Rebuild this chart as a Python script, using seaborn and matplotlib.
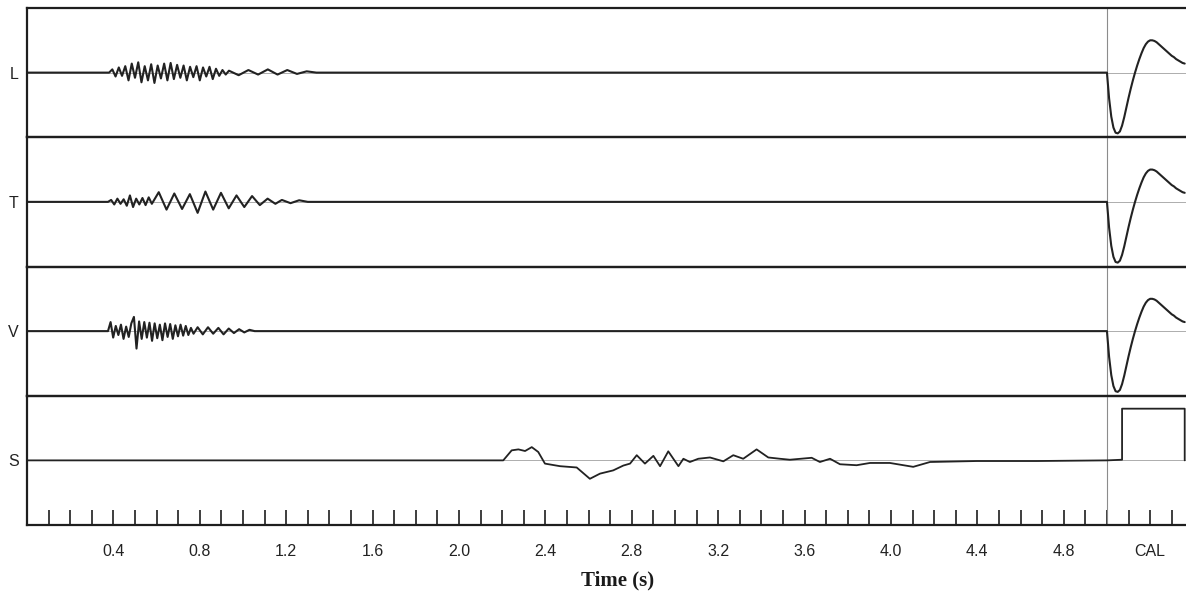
import numpy as np
import matplotlib
matplotlib.use('Agg')
import matplotlib.pyplot as plt
import seaborn as sns

# ────────────────────────────────────────────────
# channel names (top to bottom)
channels = ['L', 'T', 'V', 'S']

# L wave train: start time, sample step, values
L_burst_t0, L_burst_step = 0.38, 0.015
L_burst = [0.00, 0.05, -0.06, 0.08, -0.05, 0.10, -0.12, 0.14, -0.08, 0.16, -0.15, 0.10,
           -0.12, 0.13, -0.16, 0.11, -0.09, 0.14, -0.12, 0.15, -0.10, 0.12, -0.08, 0.11,
           -0.12, 0.09, -0.07, 0.10, -0.12, 0.08, -0.06, 0.09, -0.10, 0.06, -0.05, 0.04, -0.03]
L_coda_t0, L_coda_step = 0.935, 0.045
L_coda = [0.03, -0.04, 0.04, -0.03, 0.05, -0.03, 0.04, -0.02, 0.02, 0.00]

# T wave train
T_fast_t0, T_fast_step = 0.375, 0.0145
T_fast = [0.00, 0.03, -0.04, 0.05, -0.03, 0.04, -0.06, 0.10, -0.08, 0.05, -0.04, 0.06,
          -0.05, 0.07, -0.03]
T_slow_t0, T_slow_step = 0.61, 0.036
T_slow = [0.15, -0.12, 0.13, -0.11, 0.12, -0.17, 0.16, -0.12, 0.14, -0.10, 0.10, -0.08,
          0.09, -0.05, 0.05, -0.03]
T_coda_t0, T_coda_step = 1.18, 0.04
T_coda = [0.03, -0.02, 0.025, 0.00]

# V wave train
V_fast_t0, V_fast_step = 0.375, 0.012
V_fast = [0.00, 0.14, -0.10, 0.08, -0.06, 0.10, -0.12, 0.07, -0.09, 0.12, 0.22, -0.27,
          0.15, -0.12, 0.14, -0.10, 0.13, -0.15, 0.12, -0.11, 0.10, -0.14, 0.12, -0.09,
          0.11, -0.12, 0.09, -0.08, 0.10, -0.07, 0.08, -0.06, 0.05, -0.04]
V_slow_t0, V_slow_step = 0.79, 0.024
V_slow = [0.06, -0.05, 0.06, -0.04, 0.05, -0.05, 0.04, -0.03, 0.03, -0.02, 0.02, 0.00]

# S trace (read at the turning points)
S_time = [0.0, 2.205, 2.244, 2.275, 2.306, 2.337, 2.367, 2.398, 2.468, 2.545, 2.606,
          2.653, 2.714, 2.761, 2.792, 2.823, 2.861, 2.900, 2.931, 2.969, 3.016, 3.039,
          3.069, 3.108, 3.162, 3.224, 3.270, 3.316, 3.378, 3.432, 3.486, 3.532, 3.633,
          3.671, 3.718, 3.764, 3.841, 3.903, 3.995, 4.103, 4.181, 4.397, 4.675, 5.00,
          5.07, 5.07, 5.36, 5.36]
S_value = [0.0, 0.0, 0.155, 0.17, 0.145, 0.205, 0.13, -0.05, -0.09, -0.11, -0.285,
           -0.205, -0.155, -0.08, -0.05, 0.08, -0.05, 0.07, -0.09, 0.14, -0.09, 0.025,
           -0.025, 0.025, 0.045, -0.015, 0.08, 0.025, 0.17, 0.045, 0.025, 0.01, 0.04,
           -0.025, 0.025, -0.06, -0.075, -0.04, -0.04, -0.10, -0.025, -0.01, -0.01, 0.0,
           0.01, 0.80, 0.80, 0.0]

# calibration pulse of L, T, V (from 5.00 s, every 0.01 s)
cal_t0, cal_step = 5.00, 0.01
cal_pulse = [0.00, -0.40, -0.68, -0.85, -0.93, -0.94, -0.91, -0.82, -0.69, -0.54, -0.39,
             -0.25, -0.12, 0.00, 0.11, 0.21, 0.30, 0.38, 0.44, 0.48, 0.50, 0.50, 0.49,
             0.47, 0.44, 0.41, 0.38, 0.35, 0.32, 0.29, 0.26, 0.24, 0.21, 0.19, 0.17,
             0.15, 0.14]

# time axis
minor_ticks = [round(0.1 * k, 1) for k in range(1, 54)]
major_ticks = [0.4, 0.8, 1.2, 1.6, 2.0, 2.4, 2.8, 3.2, 3.6, 4.0, 4.4, 4.8, 5.2]
major_labels = ['0.4', '0.8', '1.2', '1.6', '2.0', '2.4', '2.8', '3.2', '3.6', '4.0',
                '4.4', '4.8', 'CAL']
cal_start = 5.0


def samples(t0, step, vals):
    return t0 + step * np.arange(len(vals)), np.array(vals, dtype=float)


def build(parts):
    # trace = rest at 0, wave pieces, rest until CAL, then calibration pulse
    ts, vs = [np.array([0.0])], [np.array([0.0])]
    for t0, step, vals in parts:
        t, v = samples(t0, step, vals)
        ts.append(t)
        vs.append(v)
    t, v = samples(cal_t0, cal_step, cal_pulse)
    ts.append(t)
    vs.append(v)
    return np.concatenate(ts), np.concatenate(vs)


traces = {
    'L': build([(L_burst_t0, L_burst_step, L_burst), (L_coda_t0, L_coda_step, L_coda)]),
    'T': build([(T_fast_t0, T_fast_step, T_fast), (T_slow_t0, T_slow_step, T_slow),
                (T_coda_t0, T_coda_step, T_coda)]),
    'V': build([(V_fast_t0, V_fast_step, V_fast), (V_slow_t0, V_slow_step, V_slow)]),
    'S': (np.array(S_time), np.array(S_value)),
}

# ────────────────────────────────────────────────
sns.set_style('white')
plt.rcParams['font.family'] = ['Liberation Sans', 'DejaVu Sans']

trace_color = '#222222'
frame_color = '#1e1e1e'

fig, axes = plt.subplots(4, 1, figsize=(11.86, 5.96), dpi=100, sharex=True)
fig.subplots_adjust(left=27 / 1186, right=1.0, top=1 - 8 / 596, bottom=1 - 525 / 596,
                    hspace=0)

for i, (ax, ch) in enumerate(zip(axes, channels)):
    t, v = traces[ch]
    ax.patch.set_visible(False)
    ax.axhline(0, color='#a0a0a0', lw=0.6, zorder=1)
    ax.axvline(cal_start, color='#8c8c8c', lw=0.8, zorder=1)
    sns.lineplot(x=t, y=v, ax=ax, color=trace_color, linewidth=1.5 if ch != 'S' else 1.3,
                 estimator=None, sort=False, zorder=2)
    ax.set_ylim(-1, 1)
    ax.set_xlim(0, 5.366)
    ax.set_yticks([0])
    ax.set_yticklabels([ch])
    ax.tick_params(axis='y', length=0, pad=6, labelsize=11.5, labelcolor='#222222')
    for side in ['left', 'bottom', 'top']:
        ax.spines[side].set_color(frame_color)
        ax.spines[side].set_linewidth(1.6)
    ax.spines['right'].set_visible(False)
    ax.set_xlabel('')
    ax.set_ylabel('')

ax = axes[-1]
ax.set_xticks(major_ticks)
ax.set_xticklabels(major_labels)
ax.set_xticks(minor_ticks, minor=True)
ax.tick_params(axis='x', which='both', direction='in', length=11, width=1.2,
               color=frame_color, bottom=True, pad=14, labelsize=11.5,
               labelcolor='#222222')
for a in axes[:-1]:
    a.tick_params(axis='x', which='both', bottom=False, labelbottom=False)

fig.text(618 / 1186, 1 - 580 / 596, 'Time (s)', ha='center', va='center',
         family=['Liberation Serif', 'DejaVu Serif'], weight='bold', size=15,
         color='#1a1a1a')

fig.savefig('out.png', dpi=100)
